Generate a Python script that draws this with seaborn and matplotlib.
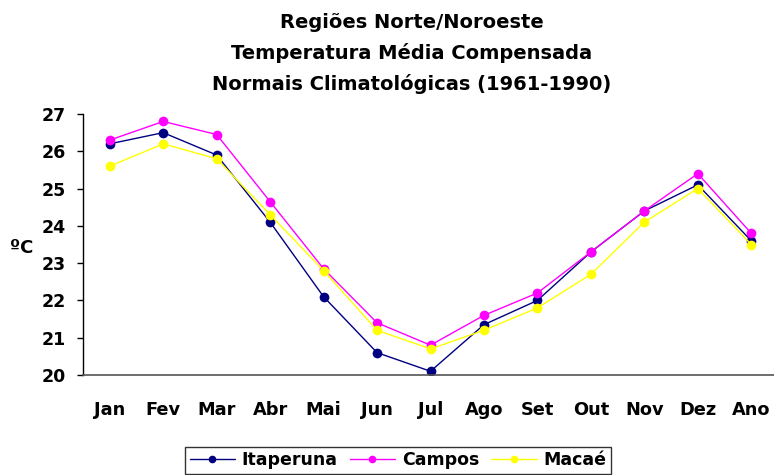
import pandas as pd
import matplotlib.pyplot as plt
import seaborn as sns
from matplotlib.lines import Line2D

meses = ['Jan', 'Fev', 'Mar', 'Abr', 'Mai', 'Jun', 'Jul', 'Ago', 'Set', 'Out', 'Nov', 'Dez', 'Ano']
itaperuna = [26.2, 26.5, 25.9, 24.1, 22.1, 20.6, 20.1, 21.35, 22.0, 23.3, 24.4, 25.1, 23.6]
campos = [26.3, 26.8, 26.45, 24.65, 22.85, 21.4, 20.8, 21.6, 22.2, 23.3, 24.4, 25.4, 23.8]
macae = [25.6, 26.2, 25.8, 24.3, 22.8, 21.2, 20.7, 21.2, 21.8, 22.7, 24.1, 25.0, 23.5]

estacoes = ['Itaperuna', 'Campos', 'Macaé']
cores = {'Itaperuna': '#000080', 'Campos': '#FF00FF', 'Macaé': '#FFFF00'}

df = pd.DataFrame({
    'mes': meses * 3,
    'temp': itaperuna + campos + macae,
    'estacao': [e for e in estacoes for _ in meses],
})

sns.set_style('white')
plt.rcParams['font.family'] = ['DejaVu Sans']
plt.rcParams['font.weight'] = 'bold'
plt.rcParams['text.color'] = 'black'
plt.rcParams['xtick.color'] = 'black'
plt.rcParams['ytick.color'] = 'black'

fig = plt.figure(figsize=(7.74, 4.75), dpi=100)
ax = fig.add_axes([83 / 774, 100 / 475, 695 / 774, 261 / 475])

sns.lineplot(data=df, x='mes', y='temp', hue='estacao', hue_order=estacoes,
             palette=cores, sort=False, marker='o', markersize=7,
             markeredgewidth=0, linewidth=1, legend=False, ax=ax)

ax.set_xlim(-0.5, 12.5)
ax.set_ylim(20, 27)
ax.set_yticks(range(20, 28))
ax.set_xticks(range(len(meses)))
ax.set_xticklabels(meses, fontsize=12.8, fontweight='bold', color='black')
ax.set_xticks([i + 0.5 for i in range(len(meses) - 1)], minor=True)
ax.tick_params(axis='x', which='major', length=0, pad=19)
ax.tick_params(axis='x', which='minor', length=4.3, width=1, color='#444444', direction='out')
ax.tick_params(axis='y', length=4.3, width=1, color='black', labelcolor='black',
               direction='out', pad=8, labelsize=12.5, left=True)
for lbl in ax.get_yticklabels():
    lbl.set_fontweight('bold')
ax.set_xlabel('')
ax.set_ylabel('')

sns.despine(ax=ax, top=True, right=True)
ax.spines['left'].set_color('black')
ax.spines['left'].set_linewidth(1)
ax.spines['bottom'].set_color('#555555')
ax.spines['bottom'].set_linewidth(1.2)

fig.text(412 / 774, 1 - 22 / 475, 'Regiões Norte/Noroeste', ha='center', va='center',
         fontsize=14, fontweight='bold', color='black')
fig.text(412 / 774, 1 - 53 / 475, 'Temperatura Média Compensada', ha='center', va='center',
         fontsize=14, fontweight='bold', color='black')
fig.text(412 / 774, 1 - 84 / 475, 'Normais Climatológicas (1961-1990)', ha='center',
         va='center', fontsize=14, fontweight='bold', color='black')
fig.text(22 / 774, 1 - 248 / 475, 'ºC', ha='center', va='center', fontsize=13,
         fontweight='bold', color='black')

handles = [Line2D([], [], color=cores[e], marker='o', markersize=5.5, markeredgewidth=0,
                  linewidth=1) for e in estacoes]
leg = fig.legend(handles, estacoes, loc='upper center', ncol=3,
                 bbox_to_anchor=(398 / 774, 1 - 447 / 475), borderaxespad=0,
                 frameon=True, fancybox=False, edgecolor='black', handlelength=2.6,
                 columnspacing=0.7, handletextpad=0.4, borderpad=0.25,
                 prop={'size': 12.5, 'weight': 'bold'})
leg.get_frame().set_linewidth(1)
for t in leg.get_texts():
    t.set_color('black')

fig.savefig('out.png', dpi=100)
